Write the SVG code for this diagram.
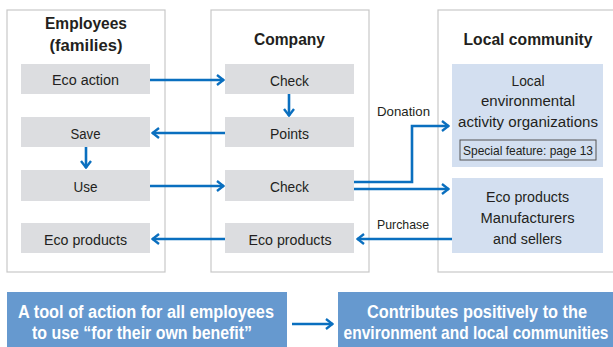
<svg xmlns="http://www.w3.org/2000/svg" width="613" height="347" viewBox="0 0 613 347">
<defs>
<style>
.outer{fill:#fff;stroke:#c8c8c8;stroke-width:1.2}
.gray{fill:#dcdde0}
.lb{fill:#d3dff0}
.db{fill:#6699cf}
text{font-family:"Liberation Sans",Arial,sans-serif;fill:#231f20;text-anchor:middle}
.t{font-size:15.5px}
.h{font-size:16.5px;font-weight:bold}
.s{font-size:13px}
.w{font-size:18px;font-weight:bold;fill:#fff}
.ln{fill:none;stroke:#0a6fbf;stroke-width:2.6}
</style>
<marker id="a" viewBox="0 0 10 12" refX="9" refY="6" markerWidth="10" markerHeight="12" markerUnits="userSpaceOnUse" orient="auto">
<path d="M2,1 L8.5,6 L2,11" fill="none" stroke="#0a6fbf" stroke-width="2.4"/>
</marker>
</defs>
<rect width="613" height="347" fill="#fff"/>
<g id="employees">
<rect class="outer" x="7" y="10" width="158" height="262"/>
<text class="h" x="86" y="29" textLength="82" lengthAdjust="spacingAndGlyphs">Employees</text>
<text class="h" x="86" y="51" textLength="73" lengthAdjust="spacingAndGlyphs">(families)</text>
</g>
<g id="company">
<rect class="outer" x="211" y="10" width="158" height="262"/>
<text class="h" x="289.5" y="45" textLength="71" lengthAdjust="spacingAndGlyphs">Company</text>
</g>
<g id="local">
<rect class="outer" x="438" y="10" width="180" height="262"/>
<text class="h" x="528" y="45" textLength="129" lengthAdjust="spacingAndGlyphs">Local community</text>
</g>
<g id="eco-action"><rect class="gray" x="21" y="64" width="129" height="30"/><text class="t" x="85.5" y="85" textLength="67" lengthAdjust="spacingAndGlyphs">Eco action</text></g>
<g id="save"><rect class="gray" x="21" y="117" width="129" height="30"/><text class="t" x="85.5" y="139" textLength="30" lengthAdjust="spacingAndGlyphs">Save</text></g>
<g id="use"><rect class="gray" x="21" y="170" width="129" height="31"/><text class="t" x="85.5" y="192" textLength="24" lengthAdjust="spacingAndGlyphs">Use</text></g>
<g id="eco-products-emp"><rect class="gray" x="21" y="223" width="129" height="30"/><text class="t" x="85.5" y="245" textLength="83" lengthAdjust="spacingAndGlyphs">Eco products</text></g>
<g id="check1"><rect class="gray" x="225" y="64" width="129" height="30"/><text class="t" x="289.5" y="86" textLength="39" lengthAdjust="spacingAndGlyphs">Check</text></g>
<g id="points"><rect class="gray" x="225" y="117" width="129" height="30"/><text class="t" x="289.5" y="139" textLength="39" lengthAdjust="spacingAndGlyphs">Points</text></g>
<g id="check2"><rect class="gray" x="225" y="170" width="129" height="31"/><text class="t" x="289.5" y="192" textLength="39" lengthAdjust="spacingAndGlyphs">Check</text></g>
<g id="eco-products-co"><rect class="gray" x="225" y="223" width="129" height="30"/><text class="t" x="290" y="245" textLength="83" lengthAdjust="spacingAndGlyphs">Eco products</text></g>
<g id="orgs">
<rect class="lb" x="452" y="64" width="151" height="103"/>
<text class="t" x="528" y="86" textLength="33" lengthAdjust="spacingAndGlyphs">Local</text>
<text class="t" x="528" y="106" textLength="94" lengthAdjust="spacingAndGlyphs">environmental</text>
<text class="t" x="528" y="127" textLength="140" lengthAdjust="spacingAndGlyphs">activity organizations</text>
<rect x="460" y="140" width="136" height="20" fill="none" stroke="#555" stroke-width="1"/>
<text class="s" x="528" y="155" textLength="130" lengthAdjust="spacingAndGlyphs">Special feature: page 13</text>
</g>
<g id="manufacturers">
<rect class="lb" x="452" y="178" width="151" height="75"/>
<text class="t" x="527.5" y="202" textLength="83" lengthAdjust="spacingAndGlyphs">Eco products</text>
<text class="t" x="527.5" y="223" textLength="94" lengthAdjust="spacingAndGlyphs">Manufacturers</text>
<text class="t" x="527.5" y="244" textLength="69" lengthAdjust="spacingAndGlyphs">and sellers</text>
</g>
<g id="tool">
<rect class="db" x="7" y="292" width="280" height="55"/>
<text class="w" x="146" y="318" textLength="256" lengthAdjust="spacingAndGlyphs">A tool of action for all employees</text>
<text class="w" x="142" y="339" textLength="220" lengthAdjust="spacingAndGlyphs">to use “for their own benefit”</text>
</g>
<g id="contributes">
<rect class="db" x="338" y="292" width="275" height="55"/>
<text class="w" x="477" y="318" textLength="220" lengthAdjust="spacingAndGlyphs">Contributes positively to the</text>
<g transform="translate(476,339) scale(0.8,1)">
<text class="w" x="0" y="0" textLength="331" lengthAdjust="spacingAndGlyphs">environment and local communities</text>
</g>
</g>
<g id="connectors">
<path class="ln" marker-end="url(#a)" d="M150,80 H224"/>
<path class="ln" marker-end="url(#a)" d="M225,133 H152"/>
<path class="ln" marker-end="url(#a)" d="M150,186 H224"/>
<path class="ln" marker-end="url(#a)" d="M225,239 H152"/>
<path class="ln" marker-end="url(#a)" d="M289,94 V116"/>
<path class="ln" marker-end="url(#a)" d="M86,147 V168"/>
<path class="ln" stroke-width="3" marker-end="url(#a)" d="M354,182 H412 V126 H449"/>
<path class="ln" marker-end="url(#a)" d="M354,189 H449"/>
<path class="ln" marker-end="url(#a)" d="M452,239 H357"/>
<path class="ln" marker-end="url(#a)" d="M292,324 H333"/>
<text class="s" x="403.5" y="116" textLength="53" lengthAdjust="spacingAndGlyphs">Donation</text>
<text class="s" x="403" y="229" textLength="52" lengthAdjust="spacingAndGlyphs">Purchase</text>
</g>
</svg>
